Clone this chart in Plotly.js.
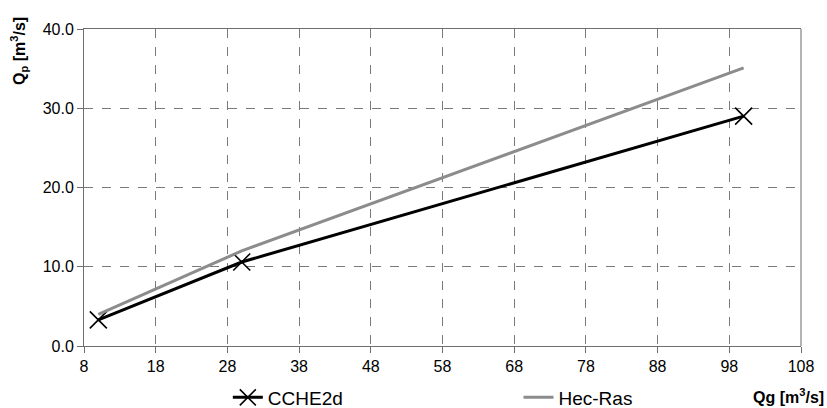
<!DOCTYPE html>
<html>
<head>
<meta charset="utf-8">
<script src="https://cdn.plot.ly/plotly-3.0.1.min.js"></script>
<style>html,body{margin:0;padding:0;background:#fff;}#chart{width:827px;height:408px;}</style>
</head>
<body>
<div id="chart"></div>
<script>
var cche2dQg = [10, 30, 100];
var cche2dQp = [3.3, 10.6, 29.0];
var hecRasQg = [10, 30, 100];
var hecRasQp = [4.0, 12.0, 35.1];
var xTicks = [8, 18, 28, 38, 48, 58, 68, 78, 88, 98, 108];
var yTicks = [0, 10, 20, 30, 40];

var fam = 'Liberation Sans, Arial, sans-serif';
var font = {family: fam, size: 16, color: '#000'};

var traces = [
  {x: cche2dQg, y: cche2dQp, name: 'CCHE2d', mode: 'lines+markers', type: 'scatter',
   legend: 'legend',
   line: {color: '#000000', width: 3},
   marker: {symbol: 'x-thin', size: 17, color: '#000', line: {color: '#000', width: 1.6}}},
  {x: hecRasQg, y: hecRasQp, name: 'Hec-Ras', mode: 'lines', type: 'scatter',
   legend: 'legend2',
   line: {color: '#8c8c8c', width: 3}}
];

var legFont = {family: fam, size: 19, color: '#000'};
var layout = {
  width: 827, height: 408,
  margin: {l: 84, r: 26, t: 29, b: 62, autoexpand: false},
  paper_bgcolor: '#fff', plot_bgcolor: '#fff',
  font: font,
  showlegend: true,
  legend: {orientation: 'h', x: 0.2006, xanchor: 'left', y: -0.1625, yanchor: 'middle',
    font: legFont, bgcolor: 'rgba(0,0,0,0)'},
  legend2: {orientation: 'h', x: 0.606, xanchor: 'left', y: -0.1625, yanchor: 'middle',
    font: legFont, bgcolor: 'rgba(0,0,0,0)'},
  xaxis: {range: [8, 108], tickvals: xTicks, ticktext: xTicks.map(String), automargin: false,
    showgrid: true, gridcolor: '#7a7a7a', griddash: 'dash', gridwidth: 1,
    showline: true, linecolor: '#6e6e6e', linewidth: 1, mirror: true,
    ticks: 'outside', ticklen: 6, tickcolor: '#6e6e6e', zeroline: false,
    tickfont: font},
  yaxis: {range: [0, 40], tickvals: yTicks, tickformat: '.1f', automargin: false,
    showgrid: true, gridcolor: '#7a7a7a', griddash: 'dash', gridwidth: 1,
    showline: true, linecolor: '#6e6e6e', linewidth: 1,
    ticks: 'outside', ticklen: 6, tickcolor: '#6e6e6e', zeroline: false,
    tickfont: font},
  shapes: [{type: 'line', xref: 'paper', yref: 'paper', x0: 1, x1: 1, y0: 0, y1: 1,
    line: {color: '#b4b4b4', width: 2}}],
  annotations: [
    {text: '<b>Qg [m<sup>3</sup>/s]</b>', xref: 'paper', yref: 'paper',
     x: 1.0, xanchor: 'right', xshift: 25, y: -0.158, yanchor: 'middle', showarrow: false,
     font: {family: fam, size: 16, color: '#000'}},
    {text: '<b>Q<sub>p</sub> [m<sup>3</sup>/s]</b>', xref: 'paper', yref: 'paper', textangle: -90,
     x: 0, xanchor: 'center', xshift: -65, y: 1, yanchor: 'middle', yshift: -22, showarrow: false,
     font: {family: fam, size: 16, color: '#000'}}
  ]
};

Plotly.newPlot('chart', traces, layout, {displayModeBar: false, staticPlot: true});
</script>
</body>
</html>
